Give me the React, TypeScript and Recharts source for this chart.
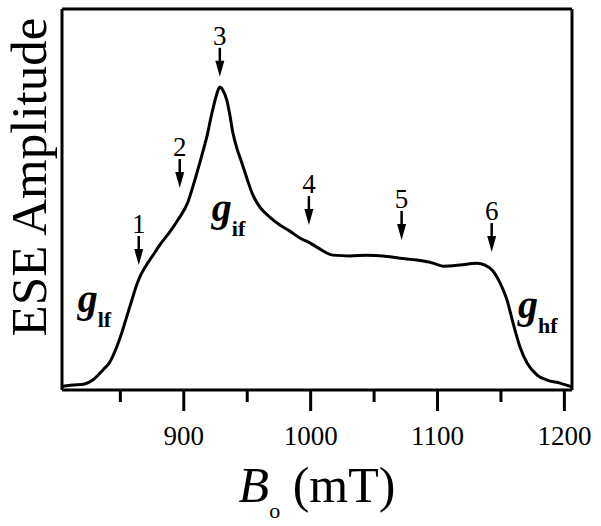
import React from "react";
import { LineChart, Line, XAxis, YAxis, ReferenceDot, Label } from "recharts";

// magnetic field (mT) and echo amplitude (arb. units, 0-100)
const field = [
  804.6, 812.4, 821.9, 828.2, 836.1, 841.6, 847.1, 851.1, 855.0, 859.8,
  862.9, 866.1, 870.0, 874.8, 881.1, 889.0, 895.3, 903.2, 908.7, 912.6,
  915.8, 918.9, 921.3, 923.7, 926.0, 928.4, 930.8, 933.9, 936.3, 938.7,
  941.8, 945.8, 949.7, 954.4, 960.0, 967.8, 975.7, 983.6, 991.5, 999.4,
  1004.9, 1017.5, 1030.9, 1044.4, 1057.0, 1070.4, 1083.8, 1096.4, 1104.3, 1117.7,
  1131.1, 1137.4, 1143.0, 1149.3, 1154.8, 1159.5, 1165.0, 1170.6, 1178.5, 1186.3,
  1196.6, 1206.0,
];
const amplitude = [
  1.0, 1.3, 1.6, 2.6, 5.2, 7.3, 11.3, 15.0, 19.2, 24.4,
  27.6, 30.2, 32.5, 34.9, 38.1, 41.5, 44.6, 49.3, 55.1, 59.6,
  63.5, 67.5, 71.4, 74.8, 77.7, 79.5, 78.7, 76.1, 72.2, 67.5,
  63.5, 59.6, 55.6, 51.2, 48.0, 45.4, 43.3, 41.7, 39.9, 38.6,
  37.5, 35.4, 35.2, 35.4, 35.2, 34.6, 34.1, 33.3, 32.5, 32.8,
  33.3, 32.8, 31.5, 28.1, 23.6, 17.6, 11.3, 7.1, 3.9, 2.6,
  1.8, 0.8,
];

// numbered arrows (tip position)
const arrowLabels = ["1", "2", "3", "4", "5", "6"];
const arrowField = [864.5, 896.8, 928.4, 998.6, 1071.7, 1142.7];
const arrowAmp = [32.8, 53.0, 82.2, 43.3, 39.4, 36.2];

// g-value labels (baseline start)
const gSubs = ["lf", "if", "hf"];
const gField = [816.4, 922.1, 1163.5];
const gAmp = [20.5, 44.4, 18.9];

const xTicks = [850, 900, 950, 1000, 1050, 1100, 1150, 1200];

const data = field.map((b, i) => ({ b, amp: amplitude[i] }));

const FONT = '"Liberation Serif", "Times New Roman", Times, serif';
const serif = { fontFamily: FONT };

const XTick = ({ x, y, payload }: any) => {
  const major = payload.value % 100 === 0;
  return (
    <g>
      <line x1={x} x2={x} y1={y} y2={y + (major ? 21 : 12)} stroke="#000" strokeWidth={3} />
      {major && (
        <text x={x} y={y + 55} textAnchor="middle" fontSize={27} style={serif} fill="#000">
          {payload.value}
        </text>
      )}
    </g>
  );
};

const Arrow = ({ cx, cy, text }: any) => (
  <g>
    <line x1={cx} x2={cx} y1={cy - 29} y2={cy - 14} stroke="#000" strokeWidth={2.5} />
    <polygon points={`${cx},${cy} ${cx - 4.5},${cy - 16} ${cx + 4.5},${cy - 16}`} fill="#000" />
    <text x={cx} y={cy - 32} textAnchor="middle" fontSize={27} style={serif} fill="#000">
      {text}
    </text>
  </g>
);

const GLabel = ({ cx, cy, sub }: any) => (
  <text x={cx} y={cy} style={serif} fill="#000" fontWeight="bold">
    <tspan fontStyle="italic" fontSize={40}>g</tspan>
    <tspan fontSize={22} dy={15}>{sub}</tspan>
  </text>
);

const XTitle = ({ viewBox }: any) => (
  <text
    x={viewBox.x + viewBox.width / 2}
    y={viewBox.y + 112}
    textAnchor="middle"
    style={serif}
    fontSize={50}
    fill="#000"
  >
    <tspan fontStyle="italic">B</tspan>
    <tspan fontSize={22} dy={16}>o</tspan>
    <tspan dy={-16}> (mT)</tspan>
  </text>
);

const YTitle = ({ viewBox }: any) => (
  <text
    x={0}
    y={0}
    transform={`translate(${viewBox.x + viewBox.width - 16}, ${viewBox.y + 168}) rotate(-90)`}
    textAnchor="middle"
    style={serif}
    fontSize={51}
    fill="#000"
  >
    ESE Amplitude
  </text>
);

const frame = { stroke: "#000", strokeWidth: 3 };

export default function App() {
  return (
    <div style={{ position: "absolute", left: 0, top: 0, background: "#fff", fontFamily: FONT }}>
      <LineChart width={601} height={526} data={data} margin={{ top: 8, right: 28, bottom: 0, left: 61 }}>
        <XAxis
          dataKey="b"
          type="number"
          domain={[804, 1206]}
          ticks={xTicks}
          interval={0}
          tick={<XTick />}
          tickLine={false}
          tickSize={0}
          tickMargin={0}
          axisLine={frame}
          height={136}
          allowDataOverflow
        >
          <Label content={<XTitle />} />
        </XAxis>
        <XAxis
          xAxisId="top"
          orientation="top"
          dataKey="b"
          type="number"
          domain={[804, 1206]}
          tick={false}
          tickLine={false}
          axisLine={frame}
          height={1}
        />
        <YAxis type="number" domain={[0, 100]} tick={false} tickLine={false} axisLine={frame} width={1}>
          <Label content={<YTitle />} />
        </YAxis>
        <YAxis
          yAxisId="right"
          orientation="right"
          type="number"
          domain={[0, 100]}
          tick={false}
          tickLine={false}
          axisLine={frame}
          width={1}
        />
        <Line
          dataKey="amp"
          type="monotone"
          dot={false}
          stroke="#000"
          strokeWidth={3}
          isAnimationActive={false}
        />
        {arrowLabels.map((t, i) => (
          <ReferenceDot
            key={t}
            x={arrowField[i]}
            y={arrowAmp[i]}
            r={0}
            shape={(p: any) => <Arrow cx={p.cx} cy={p.cy} text={t} />}
          />
        ))}
        {gSubs.map((s, i) => (
          <ReferenceDot
            key={s}
            x={gField[i]}
            y={gAmp[i]}
            r={0}
            shape={(p: any) => <GLabel cx={p.cx} cy={p.cy} sub={s} />}
          />
        ))}
      </LineChart>
    </div>
  );
}
